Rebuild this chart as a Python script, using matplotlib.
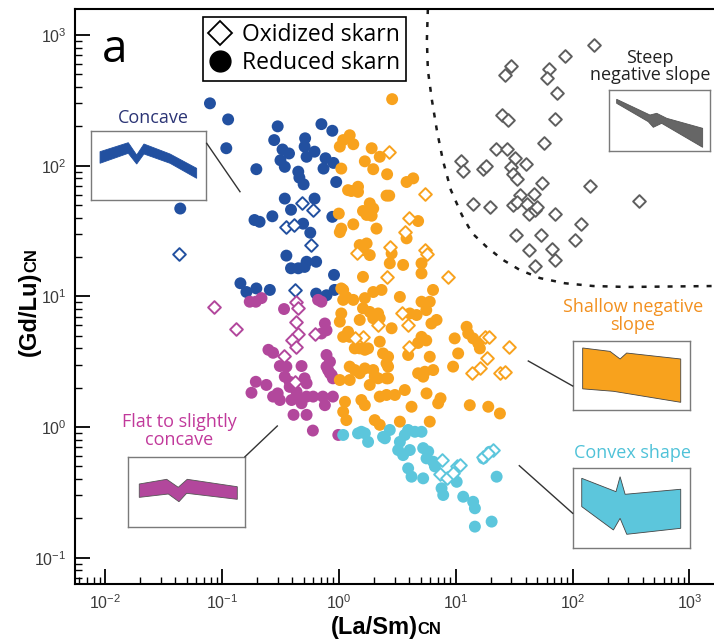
import numpy as np
import matplotlib
matplotlib.use("Agg")
import matplotlib.pyplot as plt
from matplotlib.lines import Line2D
from matplotlib.patches import Polygon

# ---------------- data ----------------
# Steep negative slope (oxidized, gray diamonds)
gray_x = [152, 86, 29.5, 26.5, 63, 60, 74, 24.7, 27.8, 71, 57, 22, 27.3, 32, 40, 11.1, 11.6, 17, 18.2, 30,
          31, 33.6, 55, 142, 35.5, 47, 14, 19.6, 30.7, 33.6, 40.5, 42.6, 47.6, 50, 71, 370, 117, 33, 54, 105,
          42, 67, 70.7, 48]
gray_y = [840, 690, 580, 490, 545, 465, 360, 244, 223, 226, 150, 134, 134, 115, 103, 109, 91, 95, 99, 98,
          87, 79, 74, 70, 60, 61, 51, 48, 50, 53, 51, 43, 45.7, 48.5, 43, 54, 35.5, 29.4, 29.4, 26.8,
          22.6, 23, 19, 17]

# Concave (blue)
blue_x = [0.079, 0.113, 0.109, 0.197, 0.044, 0.30, 0.28, 0.33, 0.375, 0.317, 0.345, 0.515, 0.51, 0.53, 0.62,
          0.71, 0.88, 0.77, 0.74, 0.90, 0.45, 0.46, 0.50, 0.95, 0.345, 0.62, 0.39, 0.495, 0.57, 0.19, 0.21,
          0.27, 0.88, 0.356, 0.39, 0.45, 0.51, 0.53, 0.64, 0.91, 0.144, 0.162, 0.197, 0.257, 0.64, 0.785, 0.92]
blue_y = [300, 226, 136, 94, 47, 200, 157, 133, 124, 110, 98, 162, 140, 117, 128, 208, 185, 114, 95, 105,
          90, 81, 72, 75, 56, 56, 46, 36, 30.7, 38.4, 37.2, 41, 40.6, 20.5, 16.4, 16.4, 16.8, 18.4, 18.4,
          14.6, 12.6, 10.8, 11.5, 11.2, 10.5, 10.2, 11.2]
blue_ox_x = [0.043, 0.356, 0.41, 0.48, 0.60, 0.58, 0.42]
blue_ox_y = [21, 34, 35, 51.5, 45.7, 24.7, 11.2]

# Flat to slightly concave (magenta)
mag_x = [0.173, 0.195, 0.218, 0.34, 0.665, 0.71, 0.76, 0.785, 0.71, 0.25, 0.274, 0.313, 0.356, 0.48, 0.785,
         0.84, 0.785, 0.195, 0.24, 0.345, 0.38, 0.51, 0.53, 0.84, 0.89, 0.179, 0.30, 0.313, 0.394, 0.45,
         0.48, 0.53, 0.603, 0.73, 0.89, 0.76, 0.41, 0.53, 0.60, 0.99, 0.81, 0.38, 0.435, 0.274, 0.87]
mag_y = [9.1, 9.1, 9.7, 8.0, 9.4, 9.1, 6.2, 5.5, 5.2, 3.9, 3.7, 2.93, 2.9, 2.93, 3.56, 3.16, 2.9, 2.22, 2.1,
         2.43, 2.22, 2.36, 2.16, 2.58, 2.36, 1.83, 1.81, 1.61, 1.61, 1.66, 1.52, 1.71, 1.71, 1.71, 1.71,
         1.47, 1.24, 1.24, 0.94, 0.87, 2.73, 2.03, 1.86, 1.71, 2.5]
mag_ox_x = [0.086, 0.131, 0.43, 0.45, 0.43, 0.45, 0.40, 0.43, 0.34, 0.62, 0.42]
mag_ox_y = [8.3, 5.6, 9.1, 8.2, 6.4, 5.15, 4.6, 4.1, 3.5, 5.15, 2.22]

# Shallow negative slope (orange)
org_x = [2.86, 1.24, 1.09, 1.02, 1.33, 1.91, 2.24, 1.67, 1.97, 1.05,
         2.59, 3.8, 4.33, 1.28, 1.46, 1.46, 2.56, 2.7, 1.84, 1.97,
         1.61, 1.73, 1.91, 1.0, 1.33, 1.05, 2.1, 4.77, 3.8, 1.2,
         1.02, 1.51, 1.73, 1.61, 1.84, 2.83, 2.73, 3.55, 5.1, 5.1,
         1.61, 1.09, 1.16, 1.33, 1.67, 1.97, 2.32, 3.33, 1.61, 1.84,
         2.17, 1.05, 1.02, 1.51, 1.97, 2.24, 2.83, 1.2, 1.24, 2.24,
         4.05, 4.63, 5.1, 6.0, 6.4, 5.6, 6.2, 6.86, 5.1, 5.6,
         4.77, 1.37, 1.51, 1.67, 1.78, 2.39, 2.64, 2.56, 3.92, 6.0,
         1.24, 1.37, 1.67, 1.97, 2.64, 4.77, 5.45, 6.42, 9.5, 9.8,
         10.5, 12.4, 12.8, 14.1, 15.6, 16.1, 2.17, 2.56, 1.02, 1.24,
         1.51, 1.84, 2.03, 2.64, 1.13, 1.09, 1.16, 1.56, 1.67, 2.24,
         2.56, 3.02, 3.67, 2.03, 2.24, 3.33, 4.19, 5.63, 7.08, 7.42,
         6.0, 13.2, 19, 23.9, 5.27, 1.05, 1.09, 1.09]
org_y = [323, 171, 157, 140, 146, 136, 117, 108, 94, 95,
         86, 75, 80, 64, 69, 63, 59, 59, 51.5, 47,
         45, 42, 41.4, 43, 35.6, 33, 33, 37.7, 27.8, 65,
         31, 24.7, 25.4, 22.6, 20.7, 21.3, 17.9, 17.4, 17.9, 15,
         14.1, 11.2, 9.9, 9.4, 9.7, 10.8, 11.2, 9.9, 8.1, 7.6,
         7.4, 7.4, 6.4, 6.6, 6.8, 6.8, 5.7, 5.36, 4.9, 4.5,
         7.4, 7.2, 9.1, 9.1, 11.2, 7.85, 6.2, 6.6, 4.9, 4.6,
         4.4, 4.0, 4.0, 3.9, 4.0, 3.66, 3.45, 3.07, 3.56, 3.45,
         2.9, 2.73, 2.81, 2.73, 2.9, 2.58, 2.65, 2.73, 2.9, 4.77,
         3.66, 5.85, 5.2, 4.77, 4.37, 4.0, 2.36, 2.36, 2.29, 2.29,
         2.58, 2.1, 2.43, 2.36, 1.56, 1.31, 1.13, 1.61, 1.47, 1.71,
         1.76, 1.76, 1.92, 1.13, 1.04, 1.1, 1.43, 1.81, 1.52, 1.66,
         1.1, 1.47, 1.43, 1.27, 2.43, 11.5, 9.4, 4.9]
org_ox_x = [2.7, 5.5, 4.0, 3.67, 1.42, 2.73, 5.45, 5.7, 2.56, 8.6, 3.44, 3.92, 2.17, 1.61, 1.37, 4.0,
            17.8, 19.4, 28.7, 18.4, 16.1, 13.7, 23.9, 26.4]
org_ox_y = [128, 60.6, 40, 31, 21.3, 24, 22.6, 21.1, 14.1, 14.1, 7.5, 6.0, 6.0, 4.9, 4.77, 4.1,
            4.9, 4.85, 4.1, 3.35, 2.81, 2.58, 2.58, 2.65]

# Convex shape (cyan)
cyan_x = [1.09, 1.46, 1.78, 1.67, 2.39, 2.73, 3.33, 3.67, 3.92, 4.48, 5.1, 3.22, 3.55, 4.05, 5.27, 5.82,
          5.63, 6.42, 6.64, 3.92, 4.19, 5.27, 7.57, 7.82, 9.52, 10.2, 11.6, 14.1, 14.6, 14.6, 20.3, 22.4,
          17.2, 19.6, 1.56, 2.48]
cyan_y = [0.87, 0.895, 0.77, 0.895, 0.84, 0.95, 0.77, 0.87, 0.95, 0.92, 0.92, 0.667, 0.61, 0.667, 0.69,
          0.65, 0.576, 0.543, 0.5, 0.483, 0.417, 0.405, 0.34, 0.302, 0.417, 0.381, 0.293, 0.268, 0.239,
          0.173, 0.189, 0.417, 0.576, 0.647, 0.92, 0.82]
cyan_ox_x = [7.57, 10.2, 10.9, 7.32, 8.36, 9.52, 17.2, 20.9, 19]
cyan_ox_y = [0.56, 0.5, 0.51, 0.44, 0.405, 0.442, 0.59, 0.667, 0.63]

# dotted boundary of the steep-negative-slope field
bound_x = [5.78, 5.67, 5.78, 6.26, 6.90, 7.77, 9.1, 11.3, 13.8, 18.5, 25.4, 35.5, 52.6, 86, 150, 292, 1625]
bound_y = [1580, 914, 539, 318, 187, 110, 65, 41.9, 30.5, 23.8, 19, 15.9, 13.8, 12.6, 12.0, 11.8, 12.0]

# REE-pattern sketches (fractions of each inset box): upper edge then lower edge
concave_shape = [(0.081, 0.697), (0.326, 0.827), (0.399, 0.649), (0.462, 0.808), (0.688, 0.664), (0.919, 0.457),
                 (0.919, 0.313), (0.688, 0.530), (0.462, 0.664), (0.399, 0.519), (0.326, 0.674), (0.081, 0.530)]
steep_shape = [(0.073, 0.847), (0.404, 0.588), (0.471, 0.616), (0.570, 0.534), (0.927, 0.369),
               (0.927, 0.056), (0.520, 0.451), (0.437, 0.385), (0.387, 0.478), (0.073, 0.781)]
shallow_shape = [(0.085, 0.895), (0.318, 0.846), (0.404, 0.736), (0.460, 0.822), (0.921, 0.736),
                 (0.921, 0.111), (0.347, 0.270), (0.085, 0.305)]
convex_shape = [(0.077, 0.875), (0.369, 0.708), (0.404, 0.895), (0.447, 0.675), (0.921, 0.738),
                (0.921, 0.25), (0.461, 0.175), (0.404, 0.375), (0.347, 0.229), (0.077, 0.521)]
flat_shape = [(0.094, 0.610), (0.329, 0.677), (0.428, 0.563), (0.505, 0.677), (0.934, 0.571),
              (0.934, 0.391), (0.500, 0.477), (0.434, 0.357), (0.343, 0.467), (0.094, 0.419)]

legend_labels = ["Oxidized skarn", "Reduced skarn"]

# ---------------- style ----------------
C_BLUE = "#2250a0"
C_MAG = "#b2479c"
C_ORG = "#f8a21d"
C_CYAN = "#5cc6dc"
C_GRAY = "#5e5e5e"
LABEL_FONT = "Open Sans"

W, H = 714, 640
fig = plt.figure(figsize=(W / 100, H / 100), dpi=100)


def fx(px):
    return px / W


def fy(py):
    return 1 - py / H


ax = fig.add_axes([fx(75), fy(584), fx(714) - fx(75), fy(9) - fy(584)])
ax.set_xscale("log")
ax.set_yscale("log")
ax.set_xlim(10 ** -2.257, 10 ** 3.21)
ax.set_ylim(10 ** -1.201, 10 ** 3.199)

S_DOT = 74
S_DIA = 42
LW_DIA = 1.4

ax.scatter(blue_x, blue_y, s=S_DOT, color=C_BLUE, edgecolors="none", zorder=3)
ax.scatter(mag_x, mag_y, s=S_DOT, color=C_MAG, edgecolors="none", zorder=3)
ax.scatter(org_x, org_y, s=S_DOT, color=C_ORG, edgecolors="none", zorder=3)
ax.scatter(cyan_x, cyan_y, s=S_DOT, color=C_CYAN, edgecolors="none", zorder=3)

for xs, ys, c in [(gray_x, gray_y, C_GRAY), (blue_ox_x, blue_ox_y, C_BLUE), (mag_ox_x, mag_ox_y, C_MAG),
                  (org_ox_x, org_ox_y, C_ORG), (cyan_ox_x, cyan_ox_y, C_CYAN)]:
    ax.scatter(xs, ys, s=S_DIA, marker="D", facecolors="white", edgecolors=c, linewidths=LW_DIA, zorder=4)

ax.plot(bound_x, bound_y, color="#1a1a1a", lw=1.8, linestyle=(0, (2.0, 3.2)), zorder=2)

# axes styling
for side in ["left", "bottom", "top"]:
    ax.spines[side].set_linewidth(1.5)
ax.spines["right"].set_visible(False)
ax.tick_params(which="major", direction="in", length=11, width=1.3, labelsize=11.5, labelcolor="#3a3a3a",
               top=False, right=False)
ax.tick_params(which="minor", direction="in", length=5, width=1.0, top=False, right=False)
ax.tick_params(axis="y", which="major", pad=6)
ax.tick_params(axis="x", which="major", pad=7)
for lab in ax.get_xticklabels() + ax.get_yticklabels():
    lab.set_family("Liberation Sans")

# legend
handles = [Line2D([], [], marker="D", ls="none", mfc="white", mec="black", ms=12, mew=1.3),
           Line2D([], [], marker="o", ls="none", mfc="black", mec="black", ms=15)]
leg = ax.legend(handles, legend_labels, loc="upper left",
                bbox_to_anchor=((203 - 75) / (714 - 75), 1 - (17 - 9) / (584 - 9)),
                frameon=True, fancybox=False, edgecolor="black", framealpha=1,
                prop={"family": LABEL_FONT, "size": 16.5}, borderpad=0.25, handlelength=1.0,
                handletextpad=0.45, labelspacing=0.2, borderaxespad=0)
leg.get_frame().set_linewidth(1.2)

# panel letter
fig.text(fx(102), fy(62), "a", fontsize=33, family=LABEL_FONT, ha="left", va="baseline")


# inset sketches
def inset(box, shape, face, edge):
    x0, y0, x1, y1 = box
    a = fig.add_axes([fx(x0), fy(y1), fx(x1) - fx(x0), fy(y0) - fy(y1)])
    a.set_xlim(0, 1)
    a.set_ylim(0, 1)
    a.set_xticks([])
    a.set_yticks([])
    for s in a.spines.values():
        s.set_edgecolor("#7a7a7a")
        s.set_linewidth(1.0)
    a.add_patch(Polygon(shape, closed=True, facecolor=face, edgecolor=edge, linewidth=0.6))
    return a


inset((90.7, 130.7, 206, 200), concave_shape, C_BLUE, C_BLUE)
inset((609.3, 90, 710, 150.7), steep_shape, "#666666", "#555555")
inset((572.7, 340.7, 690, 410), shallow_shape, C_ORG, "#444444")
inset((572.7, 468.3, 690, 548.3), convex_shape, C_CYAN, "#444444")
inset((128.3, 456.7, 245, 526.7), flat_shape, C_MAG, "#555555")

# labels of the sketches
TS = 13
fig.text(fx(153), fy(118), "Concave", color="#2b3475", fontsize=TS, family=LABEL_FONT, ha="center", va="center")
fig.text(fx(650), fy(66.5), "Steep\nnegative slope", color="#222222", fontsize=TS, family=LABEL_FONT,
         ha="center", va="center", linespacing=0.95)
fig.text(fx(633), fy(316), "Shallow negative\nslope", color="#f2901f", fontsize=TS, family=LABEL_FONT,
         ha="center", va="center", linespacing=0.95)
fig.text(fx(632), fy(453), "Convex shape", color="#4fc2d8", fontsize=TS, family=LABEL_FONT,
         ha="center", va="center")
fig.text(fx(179.5), fy(431), "Flat to slightly\nconcave", color="#c1399b", fontsize=TS, family=LABEL_FONT,
         ha="center", va="center", linespacing=0.95)

# leader lines
for (xa, ya), (xb, yb) in [((206.7, 143.3), (240, 191.7)), ((528.3, 361), (572.7, 386)),
                           ((519.3, 465.7), (572.7, 513.3)), ((245, 456.7), (277.3, 426))]:
    fig.add_artist(Line2D([fx(xa), fx(xb)], [fy(ya), fy(yb)], color="#333333", lw=1.0,
                          transform=fig.transFigure))

# axis titles with small-caps "CN"
fig.canvas.draw()
r = fig.canvas.get_renderer()
t1 = fig.text(0, 0, "(La/Sm)", fontsize=17, weight="bold", family="Liberation Sans", ha="left", va="baseline")
t2 = fig.text(0, 0, "CN", fontsize=12, weight="bold", family="Liberation Sans", ha="left", va="baseline")
w1 = t1.get_window_extent(r).width
w2 = t2.get_window_extent(r).width
start = 386 - (w1 + w2) / 2
t1.set_position((fx(start), fy(634)))
t2.set_position((fx(start + w1), fy(634)))

u1 = fig.text(0, 0, "(Gd/Lu)", fontsize=17, weight="bold", family="Liberation Sans", rotation=90,
              rotation_mode="anchor", ha="left", va="baseline")
u2 = fig.text(0, 0, "CN", fontsize=12, weight="bold", family="Liberation Sans", rotation=90,
              rotation_mode="anchor", ha="left", va="baseline")
h1 = u1.get_window_extent(r).height
h2 = u2.get_window_extent(r).height
ystart = 302 + (h1 + h2) / 2
u1.set_position((fx(36), fy(ystart)))
u2.set_position((fx(36), fy(ystart - h1)))

fig.savefig("out.png", dpi=100)
